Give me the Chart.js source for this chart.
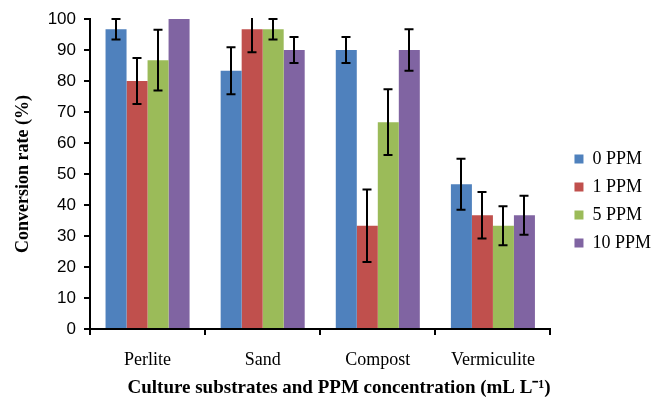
<!DOCTYPE html>
<html><head><meta charset="utf-8">
<script src="https://cdn.jsdelivr.net/npm/chart.js@4"></script>
<style>html,body{margin:0;padding:0;background:#fff}#wrap{width:654px;height:403px}</style>
</head><body><div id="wrap"><canvas id="c" width="654" height="403"></canvas></div>
<script>
const categories = ["Perlite", "Sand", "Compost", "Vermiculite"];
const seriesNames = ["0 PPM", "1 PPM", "5 PPM", "10 PPM"];
const ppm0 = [96.7, 83.3, 90.0, 46.7];
const ppm1 = [80.0, 96.7, 33.3, 36.7];
const ppm5 = [86.7, 96.7, 66.7, 33.3];
const ppm10 = [100.0, 90.0, 90.0, 36.7];
const err0 = [3.3, 7.6, 4.2, 8.2];
const err1 = [7.4, 7.4, 11.7, 7.5];
const err5 = [9.8, 3.3, 10.6, 6.3];
const err10 = [0, 4.2, 6.7, 6.3];
const yTicks = [0, 10, 20, 30, 40, 50, 60, 70, 80, 90, 100];
const colors = ["#4F81BD", "#C0504D", "#9BBB59", "#8064A2"];

const values = [ppm0, ppm1, ppm5, ppm10];
const errors = [err0, err1, err5, err10];

const serif = '"Liberation Serif", "Times New Roman", serif';

const errorBars = {
  id: 'errorBars',
  afterDatasetsDraw(chart) {
    const ctx = chart.ctx, y = chart.scales.y, area = chart.chartArea;
    ctx.save();
    ctx.beginPath();
    ctx.rect(area.left, area.top - 1, area.right - area.left, area.bottom - area.top + 2);
    ctx.clip();
    ctx.strokeStyle = '#000';
    ctx.lineWidth = 2;
    chart.data.datasets.forEach((ds, di) => {
      const meta = chart.getDatasetMeta(di);
      meta.data.forEach((bar, i) => {
        const e = errors[di][i];
        if (!e) return;
        const v = ds.data[i];
        const yTop = y.getPixelForValue(v + e), yBot = y.getPixelForValue(v - e);
        const x = Math.round(bar.x), cap = 4.5;
        ctx.beginPath();
        ctx.moveTo(x, yTop); ctx.lineTo(x, yBot);
        ctx.moveTo(x - cap, yTop); ctx.lineTo(x + cap, yTop);
        ctx.moveTo(x - cap, yBot); ctx.lineTo(x + cap, yBot);
        ctx.stroke();
      });
    });
    ctx.restore();
  }
};

const legendShift = {
  id: 'legendShift',
  afterLayout(chart) {
    const L = chart.legend;
    if (!L) return;
    L.left += 14; L.right += 14;
    L.top -= 8; L.bottom -= 8;
  }
};

new Chart(document.getElementById('c'), {
  type: 'bar',
  data: {
    labels: categories,
    datasets: seriesNames.map((n, i) => ({
      label: n, data: values[i], backgroundColor: colors[i],
      borderWidth: 0, categoryPercentage: 0.73, barPercentage: 1.0
    }))
  },
  options: {
    responsive: false, animation: false, devicePixelRatio: 1,
    layout: { padding: { left: 6, right: 7, top: 19, bottom: 4 } },
    plugins: {
      tooltip: { enabled: false },
      legend: {
        position: 'right', align: 'center',
        labels: { boxWidth: 9, boxHeight: 9, padding: 10, color: '#000',
          font: { family: serif, size: 18 } }
      }
    },
    scales: {
      x: {
        offset: true,
        afterFit: s => { s.height = 403 - 4 - 329; },
        grid: { display: true, offset: true, drawOnChartArea: false, drawTicks: true, tickLength: 6, color: '#000', lineWidth: 2 },
        border: { display: true, color: '#000', width: 2 },
        ticks: { color: '#000', padding: 14, font: { family: serif, size: 18 } },
        title: { display: true, align: 'end', text: 'Culture substrates and PPM concentration (mL L\u207B\u00B9)', color: '#000',
          padding: { top: 6, bottom: 0 },
          font: { family: serif, size: 19, weight: 'bold' } }
      },
      y: {
        min: 0, max: 100,
        afterFit: s => { s.width = 84; },
        afterBuildTicks: s => { s.ticks = yTicks.map(v => ({ value: v })); },
        grid: { display: true, drawOnChartArea: false, drawTicks: true, tickLength: 6, color: '#000', lineWidth: 2 },
        border: { display: true, color: '#000', width: 2 },
        ticks: { color: '#000', padding: 8, font: { family: '"Liberation Sans", Arial, sans-serif', size: 17 } },
        title: { display: true, text: 'Conversion rate (%)', color: '#000', padding: { top: 7, bottom: 1 },
          font: { family: serif, size: 18, weight: 'bold' } }
      }
    }
  },
  plugins: [errorBars, legendShift]
});
</script></body></html>
